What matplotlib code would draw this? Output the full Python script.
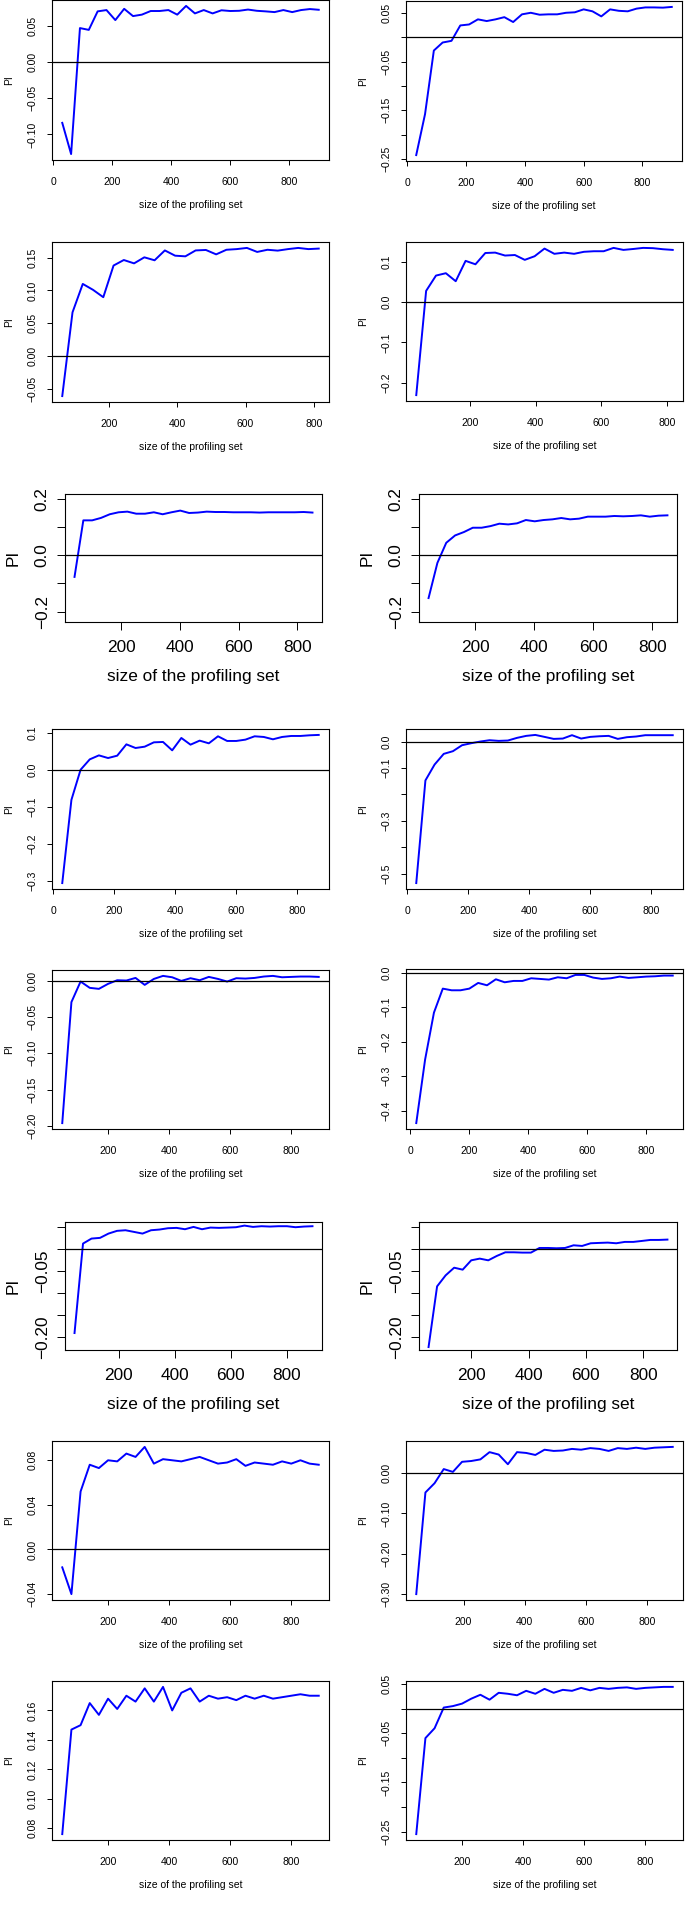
import numpy as np
import matplotlib
matplotlib.use("Agg")
import matplotlib.pyplot as plt

plt.rcParams['font.family'] = ['Liberation Sans', 'DejaVu Sans']

W, H = 685, 1917
LINE_COL = '#0000FF'

# ---- data, one series per panel ----
x1 = list(range(30, 901, 30))
y1 = [-0.084, -0.127, 0.0465, 0.044, 0.0695, 0.0713, 0.0575, 0.073, 0.063, 0.065,
      0.070, 0.070, 0.0713, 0.065, 0.077, 0.0667, 0.0713, 0.0667, 0.071, 0.070,
      0.0703, 0.072, 0.0703, 0.0695, 0.0685, 0.0713, 0.0685, 0.0713, 0.0727, 0.0717]

x2 = list(range(30, 901, 30))
y2 = [-0.242, -0.158, -0.0275, -0.011, -0.0076, 0.024, 0.026, 0.0365, 0.033, 0.0365,
      0.041, 0.031, 0.0468, 0.050, 0.046, 0.0468, 0.0468, 0.050, 0.051, 0.057,
      0.053, 0.0426, 0.057, 0.054, 0.053, 0.0585, 0.061, 0.061, 0.0605, 0.062]

x3 = list(range(64, 815, 30))
y3 = [-0.0607, 0.0668, 0.110, 0.101, 0.0898, 0.138, 0.1464, 0.1413, 0.1505, 0.146,
      0.161, 0.153, 0.152, 0.161, 0.1617, 0.155, 0.162, 0.163, 0.1648, 0.1587,
      0.162, 0.1607, 0.163, 0.1648, 0.163, 0.1638]

x4 = list(range(37, 818, 30))
y4 = [-0.2306, 0.028, 0.066, 0.0719, 0.052, 0.1025, 0.094, 0.122, 0.123, 0.1157,
      0.117, 0.105, 0.114, 0.133, 0.120, 0.123, 0.120, 0.125, 0.1264, 0.1264,
      0.1347, 0.1297, 0.132, 0.1347, 0.134, 0.1314, 0.1297]

x5 = list(range(41, 852, 30))
y5 = [-0.077, 0.1234, 0.1234, 0.132, 0.145, 0.152, 0.1543, 0.147, 0.147, 0.152,
      0.145, 0.152, 0.158, 0.1495, 0.151, 0.1543, 0.153, 0.153, 0.152, 0.152,
      0.152, 0.151, 0.152, 0.152, 0.152, 0.152, 0.153, 0.151]

x6 = list(range(41, 852, 30))
y6 = [-0.152, -0.0273, 0.0439, 0.070, 0.082, 0.0973, 0.0973, 0.103, 0.1116, 0.109,
      0.1128, 0.1246, 0.120, 0.1246, 0.127, 0.1317, 0.127, 0.1294, 0.1365, 0.1365,
      0.1365, 0.1389, 0.1377, 0.1389, 0.1412, 0.1365, 0.140, 0.1412]

x7 = list(range(30, 871, 30))
y7 = [-0.306, -0.0813, 0.0, 0.028, 0.0388, 0.0316, 0.038, 0.0686, 0.0587, 0.0623,
      0.074, 0.075, 0.0524, 0.0858, 0.0677, 0.0786, 0.0713, 0.0903, 0.0777, 0.0777,
      0.0813, 0.0903, 0.0885, 0.0822, 0.0885, 0.0912, 0.0912, 0.093, 0.094]

x8 = list(range(30, 871, 30))
y8 = [-0.535, -0.147, -0.087, -0.0466, -0.0365, -0.0139, -0.0063, 0.0, 0.005, 0.0025,
      0.0038, 0.0139, 0.0214, 0.025, 0.0176, 0.010, 0.0113, 0.024, 0.0113, 0.0176,
      0.020, 0.0214, 0.010, 0.0164, 0.019, 0.024, 0.024, 0.024, 0.024]

x9 = list(range(50, 891, 30))
y9 = [-0.1963, -0.0293, -0.0009, -0.0096, -0.011, -0.0041, 0.0009, 0.0005, 0.0041, -0.0055,
      0.0027, 0.0069, 0.005, 0.0, 0.0037, 0.0009, 0.0055, 0.0027, -0.0009, 0.0037,
      0.0032, 0.0041, 0.006, 0.0069, 0.005, 0.0055, 0.006, 0.006, 0.0055]

x10 = list(range(20, 891, 30))
y10 = [-0.436, -0.252, -0.116, -0.0465, -0.0513, -0.0513, -0.0465, -0.030, -0.0368, -0.0194,
       -0.0281, -0.0242, -0.0242, -0.0165, -0.0184, -0.0203, -0.0136, -0.0165, -0.0068, -0.0068,
       -0.0145, -0.0184, -0.0165, -0.0116, -0.0155, -0.0136, -0.0116, -0.0107, -0.0087, -0.0087]

x11 = list(np.linspace(43, 892, 29))
y11 = [-0.191, 0.013, 0.0244, 0.026, 0.0358, 0.042, 0.0434, 0.0396, 0.0358, 0.0434,
       0.045, 0.048, 0.0488, 0.0457, 0.051, 0.0457, 0.0495, 0.0488, 0.0495, 0.0503,
       0.054, 0.051, 0.0526, 0.0518, 0.0526, 0.0526, 0.0503, 0.0518, 0.0526]

x12 = list(np.linspace(51, 885, 29))
y12 = [-0.223, -0.0846, -0.0595, -0.042, -0.0465, -0.0252, -0.0213, -0.0252, -0.0152, -0.0069,
       -0.0069, -0.0076, -0.0076, 0.003, 0.003, 0.0023, 0.003, 0.0091, 0.0076, 0.0137,
       0.0145, 0.0152, 0.0137, 0.0168, 0.0168, 0.019, 0.0213, 0.0213, 0.0221]

x13 = list(range(50, 891, 30))
y13 = [-0.016, -0.040, 0.052, 0.076, 0.073, 0.080, 0.079, 0.086, 0.083, 0.092,
       0.077, 0.081, 0.080, 0.079, 0.081, 0.083, 0.080, 0.077, 0.078, 0.081,
       0.075, 0.078, 0.077, 0.076, 0.079, 0.077, 0.080, 0.077, 0.076]

x14 = list(range(45, 886, 30))
y14 = [-0.300, -0.048, -0.025, 0.010, 0.003, 0.028, 0.030, 0.034, 0.052, 0.046,
       0.022, 0.052, 0.050, 0.045, 0.058, 0.055, 0.056, 0.060, 0.058, 0.062,
       0.060, 0.055, 0.062, 0.060, 0.063, 0.060, 0.063, 0.064, 0.065]

x15 = list(range(50, 891, 30))
y15 = [0.076, 0.147, 0.150, 0.165, 0.157, 0.168, 0.161, 0.170, 0.166, 0.175,
       0.166, 0.176, 0.160, 0.172, 0.175, 0.166, 0.170, 0.168, 0.169, 0.167,
       0.170, 0.168, 0.170, 0.168, 0.169, 0.170, 0.171, 0.170, 0.170]

x16 = list(range(50, 891, 30))
y16 = [-0.255, -0.060, -0.040, 0.002, 0.005, 0.010, 0.020, 0.028, 0.018, 0.032,
       0.030, 0.027, 0.036, 0.030, 0.040, 0.032, 0.038, 0.036, 0.042, 0.037,
       0.042, 0.040, 0.042, 0.043, 0.040, 0.042, 0.043, 0.044, 0.044]

M = '\u2212'
# (yticks, shown labels)
ticks1 = ([-0.10, -0.05, 0.0, 0.05], [M + '0.10', M + '0.05', '0.00', '0.05'])
ticks2 = ([-0.25, -0.20, -0.15, -0.10, -0.05, 0.0, 0.05],
          [M + '0.25', '', M + '0.15', '', M + '0.05', '', '0.05'])
ticks3 = ([-0.05, 0.0, 0.05, 0.10, 0.15], [M + '0.05', '0.00', '0.05', '0.10', '0.15'])
ticks4 = ([-0.2, -0.1, 0.0, 0.1], [M + '0.2', M + '0.1', '0.0', '0.1'])
ticks5 = ([-0.2, -0.1, 0.0, 0.1, 0.2], [M + '0.2', '', '0.0', '', '0.2'])
ticks7 = ([-0.3, -0.2, -0.1, 0.0, 0.1], [M + '0.3', M + '0.2', M + '0.1', '0.0', '0.1'])
ticks8 = ([-0.5, -0.4, -0.3, -0.2, -0.1, 0.0], [M + '0.5', '', M + '0.3', '', M + '0.1', '0.0'])
ticks9 = ([-0.20, -0.15, -0.10, -0.05, 0.0],
          [M + '0.20', M + '0.15', M + '0.10', M + '0.05', '0.00'])
ticks10 = ([-0.4, -0.3, -0.2, -0.1, 0.0], [M + '0.4', M + '0.3', M + '0.2', M + '0.1', '0.0'])
ticks11 = ([-0.20, -0.15, -0.10, -0.05, 0.0, 0.05], [M + '0.20', '', '', M + '0.05', '', ''])
ticks13 = ([-0.04, 0.0, 0.04, 0.08], [M + '0.04', '0.00', '0.04', '0.08'])
ticks14 = ([-0.30, -0.20, -0.10, 0.0], [M + '0.30', M + '0.20', M + '0.10', '0.00'])
ticks15 = ([0.08, 0.10, 0.12, 0.14, 0.16], ['0.08', '0.10', '0.12', '0.14', '0.16'])

ylim5 = (-0.2368, 0.2168)
ylim11 = (-0.2297, 0.0622)

# panel boxes in pixels: left, top, right, bottom
panels = [
    (x1, y1, ticks1, None, False, (52, 0, 329, 160)),
    (x2, y2, ticks2, None, False, (406, 1, 682, 161)),
    (x3, y3, ticks3, None, False, (52, 242, 329, 402)),
    (x4, y4, ticks4, None, False, (406, 242, 683, 401)),
    (x5, y5, ticks5, ylim5, True, (65, 494, 322, 622)),
    (x6, y6, ticks5, ylim5, True, (419, 494, 677, 622)),
    (x7, y7, ticks7, None, False, (52, 729, 329, 889)),
    (x8, y8, ticks8, None, False, (406, 729, 683, 889)),
    (x9, y9, ticks9, None, False, (52, 970, 329, 1129)),
    (x10, y10, ticks10, None, False, (406, 969, 683, 1129)),
    (x11, y11, ticks11, ylim11, True, (65, 1222, 322, 1350)),
    (x12, y12, ticks11, ylim11, True, (419, 1222, 677, 1350)),
    (x13, y13, ticks13, None, False, (52, 1441, 329, 1600)),
    (x14, y14, ticks14, None, False, (406, 1441, 683, 1600)),
    (x15, y15, ticks15, None, False, (52, 1681, 329, 1840)),
    (x16, y16, ticks2, None, False, (406, 1681, 683, 1840)),
]


def r_range(v):
    # R style axis range: data range plus 4% each side
    lo, hi = min(v), max(v)
    d = (hi - lo) * 0.04
    return lo - d, hi + d


fig = plt.figure(figsize=(W / 100, H / 100), dpi=100)

for xs, ys, (yt, ytl), ylim, big, (l, t, r, b) in panels:
    ax = fig.add_axes([l / W, 1 - b / H, (r - l) / W, (b - t) / H])
    fs = 12.4 if big else 7.5
    tl = 5.5 if big else 3.6
    ax.plot(xs, ys, color=LINE_COL, lw=1.4)
    ax.set_xlim(*r_range(xs))
    ax.set_ylim(*(ylim if ylim is not None else r_range(ys)))
    ax.axhline(0, color='black', lw=0.9)
    x0, x1_ = ax.get_xlim()
    xt = [v for v in range(0, 1001, 200) if x0 <= v <= x1_]
    ax.set_xticks(xt)
    ax.set_xticklabels([str(v) for v in xt])
    ax.set_yticks(yt)
    ax.set_yticklabels(ytl, rotation=90, va='center')
    for sp in ax.spines.values():
        sp.set_linewidth(0.8)
    ax.tick_params(direction='out', length=tl, width=0.7, labelsize=fs)
    ax.tick_params(axis='x', pad=7.3 if big else 8.7)
    ax.tick_params(axis='y', pad=5.5 if big else 6.5)
    ax.set_xlabel('size of the profiling set', fontsize=fs, labelpad=10.5 if big else 9.2)
    ax.set_ylabel('PI', fontsize=fs, labelpad=10 if big else 10)

fig.savefig('out.png', dpi=100)
